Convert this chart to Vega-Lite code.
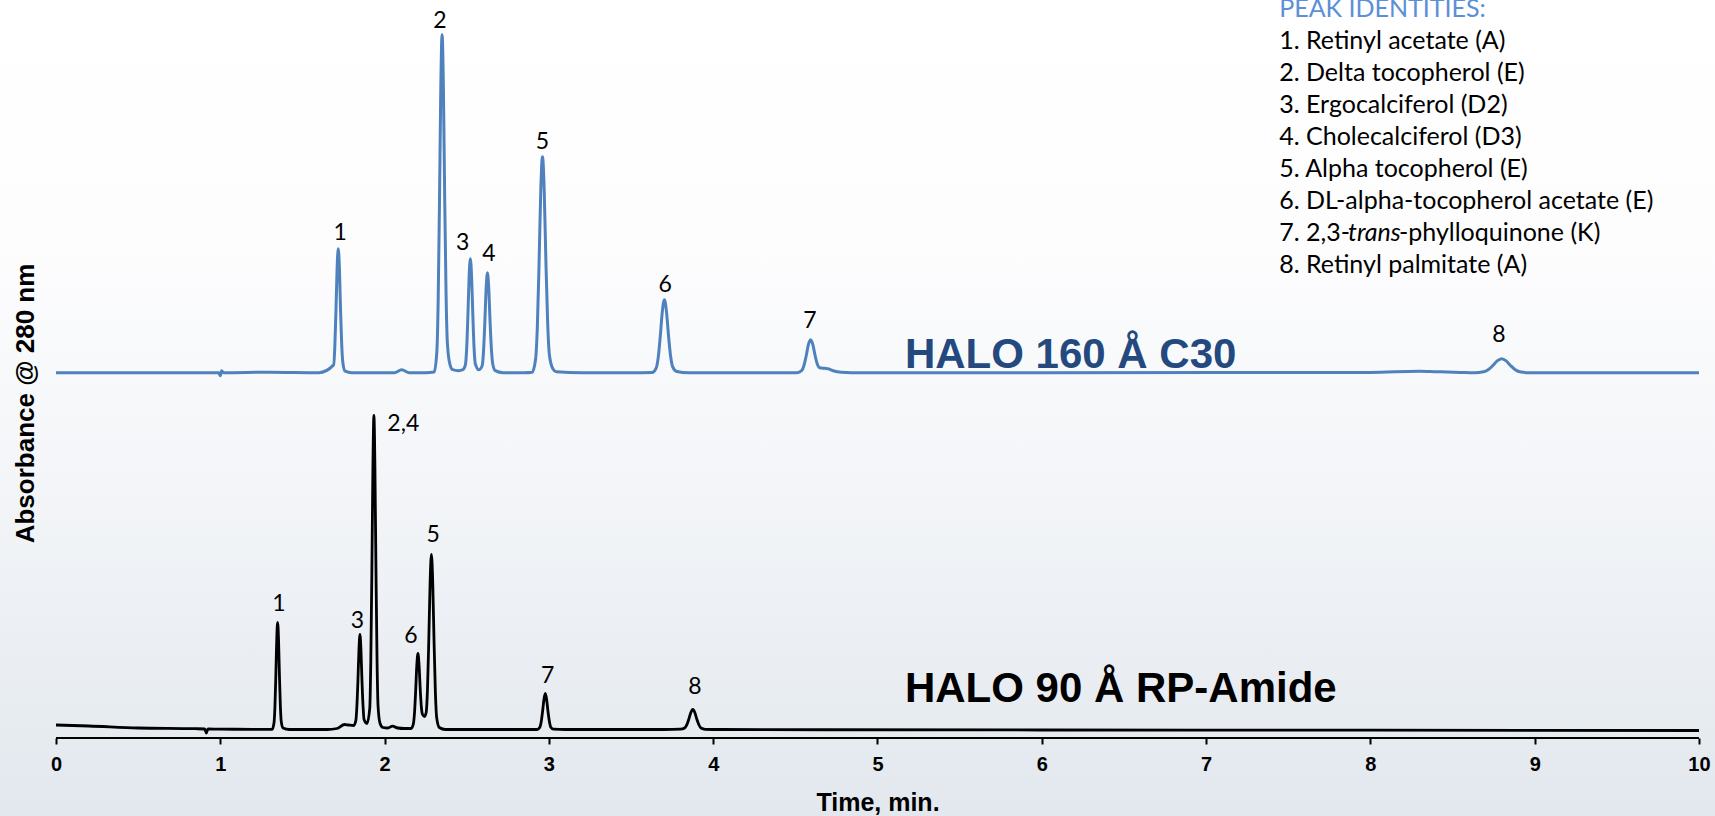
{
  "$schema": "https://vega.github.io/schema/vega-lite/v6.json",
  "width": 1715,
  "height": 816,
  "autosize": {"type": "none"},
  "padding": 0,
  "background": "#ffffff",
  "datasets": {
    "blue": [
      {"t":0,"v":0},{"t":0.5,"v":0},{"t":0.99,"v":0},{"t":1.0,"v":-3},{"t":1.008,"v":2},{"t":1.02,"v":0},{"t":1.3,"v":0.5},{"t":1.6,"v":0},
      {"t":1.690,"v":7.8},{"t":1.697,"v":26},{"t":1.704,"v":62},{"t":1.711,"v":104.3},{"t":1.718,"v":124},{"t":1.725,"v":104.3},{"t":1.732,"v":62},{"t":1.739,"v":28},{"t":1.746,"v":10},{"t":1.760,"v":1.5},{"t":1.80,"v":0},
      {"t":2.06,"v":0},{"t":2.104,"v":3},{"t":2.15,"v":0},{"t":2.25,"v":0},
      {"t":2.302,"v":0.7},{"t":2.318,"v":21},{"t":2.326,"v":71},{"t":2.334,"v":169},{"t":2.342,"v":284},{"t":2.350,"v":338},{"t":2.358,"v":284},{"t":2.366,"v":172},{"t":2.374,"v":80},{"t":2.382,"v":30},{"t":2.398,"v":8},{"t":2.414,"v":3},
      {"t":2.45,"v":2},{"t":2.477,"v":3},{"t":2.492,"v":8},{"t":2.4995,"v":24},{"t":2.507,"v":57},{"t":2.5145,"v":96},{"t":2.522,"v":114},{"t":2.5295,"v":96},{"t":2.537,"v":58},{"t":2.5445,"v":25},{"t":2.552,"v":9},{"t":2.574,"v":3},
      {"t":2.594,"v":7},{"t":2.602,"v":21},{"t":2.610,"v":50},{"t":2.618,"v":84},{"t":2.626,"v":100},{"t":2.634,"v":84},{"t":2.642,"v":51},{"t":2.650,"v":24},{"t":2.658,"v":9},{"t":2.674,"v":2},{"t":2.72,"v":0},{"t":2.85,"v":0},
      {"t":2.898,"v":0.5},{"t":2.919,"v":13.5},{"t":2.9295,"v":45},{"t":2.940,"v":108},{"t":2.9505,"v":182},{"t":2.961,"v":216},{"t":2.9715,"v":182},{"t":2.982,"v":110},{"t":2.9925,"v":50},{"t":3.003,"v":18},{"t":3.024,"v":4},{"t":3.045,"v":1},{"t":3.2,"v":0},{"t":3.5,"v":0},
      {"t":3.628,"v":0.2},{"t":3.653,"v":4.6},{"t":3.6655,"v":15.3},{"t":3.678,"v":36.5},{"t":3.6905,"v":61.4},{"t":3.703,"v":73},{"t":3.7155,"v":61.4},{"t":3.728,"v":37},{"t":3.7405,"v":17},{"t":3.753,"v":6},{"t":3.778,"v":1.2},{"t":3.85,"v":0},{"t":4.2,"v":0},{"t":4.45,"v":0},
      {"t":4.5105,"v":0},{"t":4.538,"v":2},{"t":4.552,"v":7},{"t":4.5655,"v":16.5},{"t":4.579,"v":27.8},{"t":4.593,"v":33},{"t":4.607,"v":27.8},{"t":4.6205,"v":17},{"t":4.634,"v":8.5},{"t":4.648,"v":5},{"t":4.68,"v":4.4},{"t":4.70,"v":4},{"t":4.73,"v":2},{"t":4.78,"v":0.5},{"t":4.9,"v":0},{"t":6,"v":0},{"t":8.0,"v":0.3},{"t":8.3,"v":1.5},{"t":8.4,"v":1},{"t":8.55,"v":0.3},
      {"t":8.634,"v":0},{"t":8.689,"v":0.9},{"t":8.7165,"v":2.9},{"t":8.744,"v":7},{"t":8.7715,"v":11.8},{"t":8.799,"v":14},{"t":8.8265,"v":11.8},{"t":8.854,"v":7},{"t":8.8815,"v":3},{"t":8.909,"v":1},{"t":8.964,"v":0},{"t":9.5,"v":0},{"t":10,"v":0}
    ],
    "black": [
      {"t":0,"v":4.5},{"t":0.2,"v":3.5},{"t":0.5,"v":1.5},{"t":0.85,"v":0.8},{"t":0.905,"v":0.5},{"t":0.915,"v":-3.5},{"t":0.925,"v":0.5},{"t":1.0,"v":0.3},{"t":1.2,"v":0.2},
      {"t":1.316,"v":0.2},{"t":1.327,"v":6.7},{"t":1.3325,"v":22.5},{"t":1.338,"v":53.5},{"t":1.3435,"v":90},{"t":1.349,"v":107},{"t":1.3545,"v":90},{"t":1.360,"v":54},{"t":1.3655,"v":24},{"t":1.371,"v":8},{"t":1.382,"v":1.5},{"t":1.42,"v":0},{"t":1.65,"v":0},
      {"t":1.71,"v":1},{"t":1.756,"v":5},{"t":1.78,"v":4.5},
      {"t":1.8125,"v":4},{"t":1.825,"v":9},{"t":1.831,"v":22},{"t":1.8375,"v":48},{"t":1.844,"v":80},{"t":1.850,"v":95},{"t":1.856,"v":80},{"t":1.8625,"v":48},{"t":1.869,"v":23},{"t":1.875,"v":10},{"t":1.893,"v":6},
      {"t":1.910,"v":22},{"t":1.916,"v":68},{"t":1.9225,"v":157},{"t":1.929,"v":264},{"t":1.935,"v":314},{"t":1.941,"v":264},{"t":1.9475,"v":159},{"t":1.954,"v":70},{"t":1.960,"v":24},{"t":1.9725,"v":6},{"t":1.99,"v":2},
      {"t":2.02,"v":1.5},{"t":2.047,"v":3.3},{"t":2.08,"v":1.5},{"t":2.12,"v":1},
      {"t":2.161,"v":1},{"t":2.175,"v":5.5},{"t":2.182,"v":16.5},{"t":2.189,"v":38},{"t":2.196,"v":64},{"t":2.203,"v":76},{"t":2.210,"v":64},{"t":2.217,"v":40},{"t":2.224,"v":22},{"t":2.231,"v":15},{"t":2.243,"v":13},
      {"t":2.253,"v":17},{"t":2.261,"v":40},{"t":2.269,"v":89},{"t":2.277,"v":147},{"t":2.285,"v":175},{"t":2.293,"v":147},{"t":2.301,"v":88},{"t":2.309,"v":38},{"t":2.317,"v":12},{"t":2.333,"v":2},{"t":2.37,"v":0},{"t":2.8,"v":0},
      {"t":2.9285,"v":0},{"t":2.945,"v":2.3},{"t":2.953,"v":7.6},{"t":2.9615,"v":18},{"t":2.970,"v":30.3},{"t":2.978,"v":36},{"t":2.986,"v":30.3},{"t":2.9945,"v":18},{"t":3.003,"v":8},{"t":3.011,"v":2.5},{"t":3.0275,"v":0.3},{"t":3.1,"v":0},{"t":3.7,"v":0},
      {"t":3.801,"v":0.3},{"t":3.826,"v":1.5},{"t":3.8385,"v":4.3},{"t":3.851,"v":10},{"t":3.8635,"v":16.8},{"t":3.876,"v":20},{"t":3.8885,"v":16.8},{"t":3.901,"v":10},{"t":3.9135,"v":4.5},{"t":3.926,"v":1.5},{"t":3.951,"v":0.2},{"t":4.05,"v":0},{"t":6,"v":-0.5},{"t":8,"v":-0.7},{"t":10,"v":-1}
    ],
    "blue_labels": [
      {"t":1.729,"v":132.7,"label":"1"},{"t":2.337,"v":344.7,"label":"2"},{"t":2.475,"v":122.7,"label":"3"},{"t":2.635,"v":111.7,"label":"4"},
      {"t":2.960,"v":223.4,"label":"5"},{"t":3.707,"v":81,"label":"6"},{"t":4.589,"v":44.4,"label":"7"},{"t":8.783,"v":30.4,"label":"8"}
    ],
    "black_labels": [
      {"t":1.357,"v":118.8,"label":"1"},{"t":1.834,"v":101.2,"label":"3"},{"t":2.114,"v":298.8,"label":"2,4"},{"t":2.161,"v":86.8,"label":"6"},
      {"t":2.296,"v":187.2,"label":"5"},{"t":2.993,"v":46.2,"label":"7"},{"t":3.889,"v":35.2,"label":"8"}
    ],
    "legend": [
      {"t":7.445,"v":323.7,"label":"1. Retinyl acetate (A)"},
      {"t":7.445,"v":291.7,"label":"2. Delta tocopherol (E)"},
      {"t":7.445,"v":259.7,"label":"3. Ergocalciferol (D2)"},
      {"t":7.445,"v":227.7,"label":"4. Cholecalciferol (D3)"},
      {"t":7.445,"v":195.7,"label":"5. Alpha tocopherol (E)"},
      {"t":7.445,"v":163.7,"label":"6. DL-alpha-tocopherol acetate (E)"},
      {"t":7.445,"v":131.7,"label":"7. 2,3-"},
      {"t":8.174,"v":131.7,"label":"-phylloquinone (K)"},
      {"t":7.445,"v":99.7,"label":"8. Retinyl palmitate (A)"}
    ]
  },
  "encoding": {
    "x": {
      "field": "t", "type": "quantitative",
      "scale": {"domain": [-0.3408, 10.0974], "nice": false, "zero": false},
      "axis": {
        "title": "Time, min.", "values": [0,1,2,3,4,5,6,7,8,9,10], "grid": false, "offset": -78, "domain": false,
        "tickColor": "#000000", "tickWidth": 2, "tickSize": 6,
        "labelFont": "Liberation Sans", "labelFontWeight": "bold", "labelFontSize": 20, "labelColor": "#000000", "labelPadding": 10,
        "labelFlush": false, "labelOverlap": false,
        "titleFont": "Liberation Sans", "titleFontWeight": "bold", "titleFontSize": 25, "titleColor": "#000000",
        "titleBaseline": "alphabetic", "titleY": 72, "titleX": 877.5, "titleAlign": "center"
      }
    }
  },
  "layer": [
    {
      "encoding": {
        "y": {"field": "v", "type": "quantitative", "scale": {"domain": [-443.3, 372.7], "nice": false, "zero": false}, "axis": null}
      },
      "layer": [
        {"data": {"name": "blue"}, "mark": {"type": "line", "color": "#4f81bd", "strokeWidth": 3, "interpolate": "monotone"}, "encoding": {}},
        {"data": {"name": "blue_labels"}, "mark": {"type": "text", "font": "Lato", "fontSize": 23, "color": "#000000", "align": "center", "baseline": "alphabetic"}, "encoding": {"text": {"field": "label"}}},
        {"data": {"values": [{"t": 5.167, "v": 4.7, "label": "HALO 160 Å C30"}]}, "mark": {"type": "text", "font": "Liberation Sans", "fontWeight": "bold", "fontSize": 42, "color": "#24497f", "align": "left", "baseline": "alphabetic"}, "encoding": {"text": {"field": "label"}}},
        {"data": {"values": [{"t": 7.445, "v": 355.7, "label": "PEAK IDENTITIES:"}]}, "mark": {"type": "text", "font": "Lato", "fontSize": 25, "color": "#5b8fd6", "align": "left", "baseline": "alphabetic"}, "encoding": {"text": {"field": "label"}}},
        {"data": {"name": "legend"}, "mark": {"type": "text", "font": "Lato", "fontSize": 25, "color": "#000000", "align": "left", "baseline": "alphabetic"}, "encoding": {"text": {"field": "label"}}},
        {"data": {"values": [{"t": 7.864, "v": 131.7, "label": "trans"}]}, "mark": {"type": "text", "font": "Lato", "fontSize": 25, "fontStyle": "italic", "color": "#000000", "align": "left", "baseline": "alphabetic"}, "encoding": {"text": {"field": "label"}}}
      ]
    },
    {
      "encoding": {
        "y": {
          "field": "v", "type": "quantitative", "scale": {"domain": [-86.5, 729.5], "nice": false, "zero": false},
          "axis": {
            "orient": "left", "title": "Absorbance @ 280 nm", "domain": false, "ticks": false, "labels": false, "grid": false,
            "titleFont": "Liberation Sans", "titleFontWeight": "bold", "titleFontSize": 26, "titleColor": "#000000",
            "titleAngle": -90, "titleAlign": "center", "titleBaseline": "alphabetic", "titleX": 33, "titleY": 403
          }
        }
      },
      "layer": [
        {"data": {"values": [{"t": 0, "t2": 10, "v": -8.5}]}, "mark": {"type": "rule", "color": "#000000", "strokeWidth": 2}, "encoding": {"x2": {"field": "t2"}}},
        {"data": {"name": "black"}, "mark": {"type": "line", "color": "#000000", "strokeWidth": 2.8, "interpolate": "monotone"}, "encoding": {}},
        {"data": {"name": "black_labels"}, "mark": {"type": "text", "font": "Lato", "fontSize": 23, "color": "#000000", "align": "center", "baseline": "alphabetic"}, "encoding": {"text": {"field": "label"}}},
        {"data": {"values": [{"t": 5.167, "v": 27.2, "label": "HALO 90 Å RP-Amide"}]}, "mark": {"type": "text", "font": "Liberation Sans", "fontWeight": "bold", "fontSize": 42, "color": "#000000", "align": "left", "baseline": "alphabetic"}, "encoding": {"text": {"field": "label"}}}
      ]
    }
  ],
  "resolve": {"scale": {"y": "independent"}, "axis": {"y": "independent"}},
  "config": {
    "view": {
      "stroke": null,
      "fill": {"gradient": "linear", "x1": 0, "y1": 0, "x2": 0, "y2": 1, "stops": [{"offset": 0, "color": "#ffffff"}, {"offset": 0.3, "color": "#fdfdfe"}, {"offset": 0.6, "color": "#f3f5f8"}, {"offset": 1, "color": "#e2e8ee"}]}
    }
  }
}
